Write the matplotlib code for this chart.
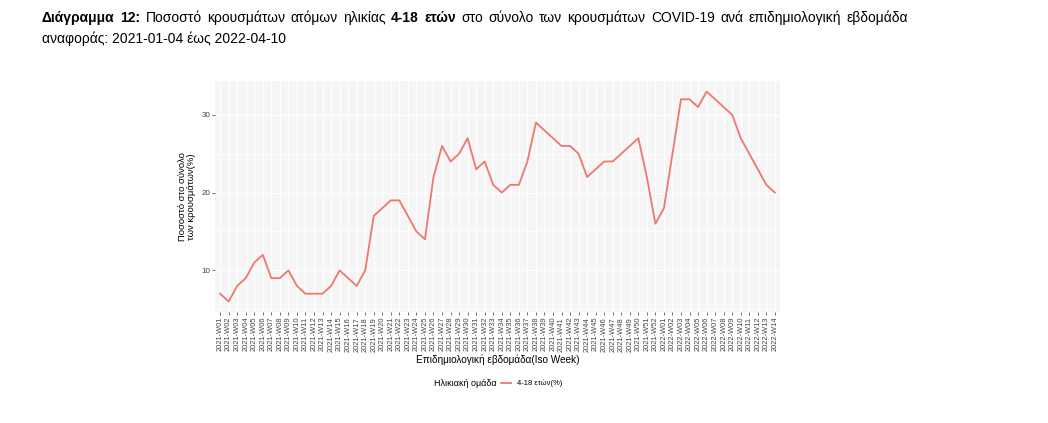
import matplotlib
matplotlib.use("Agg")
import matplotlib.pyplot as plt
from matplotlib import font_manager
from matplotlib.lines import Line2D

# ---- data ----
weeks_2021 = [f"2021-W{i:02d}" for i in range(1, 53)]
weeks_2022 = [f"2022-W{i:02d}" for i in range(1, 15)]
week_labels = weeks_2021 + weeks_2022
values = [7, 6, 8, 9, 11, 12, 9, 9, 10, 8,
          7, 7, 7, 8, 10, 9, 8, 10, 17, 18,
          19, 19, 17, 15, 14, 22, 26, 24, 25, 27,
          23, 24, 21, 20, 21, 21, 24, 29, 28, 27,
          26, 26, 25, 22, 23, 24, 24, 25, 26, 27,
          22, 16,
          18, 25, 32, 32, 31, 33, 32, 31, 30, 27,
          25, 23, 21, 20]
y_ticks = [10, 20, 30]
series_name = "4-18 ετών(%)"
legend_title = "Ηλικιακή ομάδα"
x_title = "Επιδημιολογική εβδομάδα(Iso Week)"
y_title = "Ποσοστό στο σύνολο\nτων κρουσμάτων(%)"
title_words = [("Διάγραμμα", True), ("12:", True), ("Ποσοστό", False), ("κρουσμάτων", False),
               ("ατόμων", False), ("ηλικίας", False), ("4-18", True), ("ετών", True),
               ("στο", False), ("σύνολο", False), ("των", False), ("κρουσμάτων", False),
               ("COVID-19", False), ("ανά", False), ("επιδημιολογική", False), ("εβδομάδα", False)]
title_line2 = "αναφοράς: 2021-01-04 έως 2022-04-10"

W, H = 1048, 423
fig = plt.figure(figsize=(W / 100, H / 100), dpi=100)
fig.patch.set_facecolor("white")

names = {f.name for f in font_manager.fontManager.ttflist}
base_font = "Liberation Sans" if "Liberation Sans" in names else "DejaVu Sans"
title_font = "Liberation Sans Narrow" if "Liberation Sans Narrow" in names else base_font

# panel in pixels
pl, pr, pt, pb = 215, 780, 81, 312
ax = fig.add_axes([pl / W, 1 - pb / H, (pr - pl) / W, (pb - pt) / H])
ax.set_facecolor("#F5F5F5")
x = list(range(len(week_labels)))
ax.plot(x, values, color="#EE7770", lw=1.3, zorder=3)
ax.set_xlim(-0.6, len(week_labels) - 1 + 0.6)
ax.set_ylim(4.65, 34.35)
ax.set_xticks(x)
ax.set_xticklabels(week_labels, rotation=90, fontsize=5.4, color="#444444", family=base_font)
ax.set_yticks(y_ticks)
ax.set_yticklabels([str(v) for v in y_ticks], fontsize=5.8, color="#444444", family=base_font)
ax.set_yticks([5, 15, 25], minor=True)
ax.grid(True, which="major", color="white", lw=0.9, zorder=1)
ax.grid(True, which="minor", axis="y", color="white", lw=0.5, zorder=1)
ax.tick_params(axis="both", which="major", length=2, width=0.5, color="#333333", pad=1.5)
ax.tick_params(axis="y", which="minor", length=0)
for s in ax.spines.values():
    s.set_visible(False)
ax.set_axisbelow(True)

ax.set_xlabel(x_title, fontsize=7.2, family=base_font, labelpad=2)
ax.set_ylabel(y_title, fontsize=6.8, family=base_font, labelpad=4, linespacing=0.95)

# legend (manual, at the bottom)
ly = 1 - 383 / H
fig.text(434 / W, ly, legend_title, fontsize=6.5, family=base_font, va="center", ha="left")
fig.add_artist(Line2D([501 / W, 511 / W], [ly, ly], color="#EE7770", lw=1.3,
                      transform=fig.transFigure))
fig.text(517 / W, ly, series_name, fontsize=5.5, family=base_font, va="center", ha="left")

# title, justified first line
renderer = fig.canvas.get_renderer()
fs = 10.5
left_px, right_px = 42, 908
y1 = 1 - 18 / H
y2 = 1 - 39 / H
for attempt in range(6):
    texts = []
    for w, b in title_words:
        t = fig.text(0, y1, w, fontsize=fs, family=title_font,
                     fontweight="bold" if b else "normal", va="center", ha="left")
        texts.append(t)
    widths = [t.get_window_extent(renderer).width for t in texts]
    gap = (right_px - left_px - sum(widths)) / (len(texts) - 1)
    if gap >= 3 or attempt == 5:
        break
    for t in texts:
        t.remove()
    fs -= 0.5
xpos = left_px
for t, wd in zip(texts, widths):
    t.set_x(xpos / W)
    xpos += wd + gap
fig.text(left_px / W, y2, title_line2, fontsize=fs, family=title_font, va="center", ha="left")

fig.savefig("out.png", dpi=100, facecolor="white")
